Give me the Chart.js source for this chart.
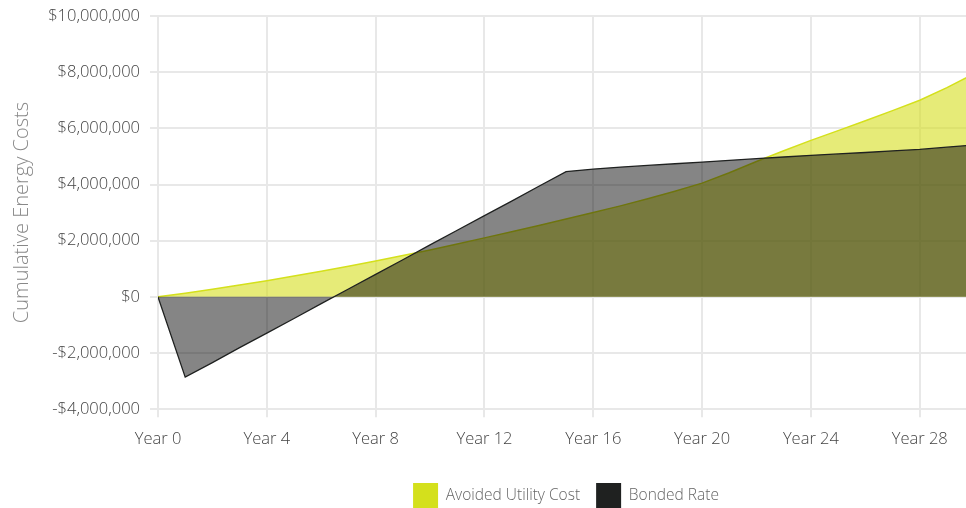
<!DOCTYPE html>
<html>
<head>
<meta charset="utf-8">
<script src="https://cdn.jsdelivr.net/npm/chart.js@4/dist/chart.umd.min.js"></script>
<style>
  html, body { margin: 0; padding: 0; background: #fff; }
  #wrap { width: 966px; height: 508px; }
</style>
</head>
<body>
<div id="wrap"><canvas id="myChart" width="966" height="508"></canvas></div>
<script>
// years on the x axis
let years = [0, 1, 2, 3, 4, 5, 6, 7, 8, 9, 10, 11, 12, 13, 14, 15,
             16, 17, 18, 19, 20, 21, 22, 23, 24, 25, 26, 27, 28, 29, 30];

// cumulative avoided utility cost ($)
let avoided = [0, 130000, 270000, 420000, 570000, 740000, 910000, 1090000, 1280000, 1470000,
               1670000, 1880000, 2100000, 2320000, 2540000, 2770000, 3000000, 3240000, 3490000, 3760000,
               4050000, 4420000, 4820000, 5200000, 5570000, 5920000, 6270000, 6630000, 7000000, 7450000, 7950000];

// cumulative bonded rate ($)
let bonded = [0, -2860000, -2340000, -1810000, -1290000, -770000, -240000, 280000, 800000, 1320000,
              1850000, 2370000, 2890000, 3410000, 3940000, 4460000, 4550000, 4620000, 4680000, 4740000,
              4800000, 4860000, 4920000, 4980000, 5040000, 5090000, 5140000, 5200000, 5250000, 5330000, 5410000];

let yTicks = [-4000000, -2000000, 0, 2000000, 4000000, 6000000, 8000000, 10000000];

let yellow = '#d4e01c';
let dark = '#1f2120';

function toPoints(vals) {
    return years.map(function (y, i) { return { x: y, y: vals[i] }; });
}

function money(v) {
    let s = '$' + Math.abs(v).toLocaleString('en-US');
    return v < 0 ? '-' + s : s;
}

// push the legend down a bit and centre it under the plot area
let legendShift = {
    id: 'legendShift',
    afterLayout: function (c) {
        let lg = c.legend;
        let dx = (c.chartArea.left + c.chartArea.right) / 2 + 4 - (lg.left + lg.right) / 2;
        lg.left += dx; lg.right += dx;
        lg.top += 6; lg.bottom += 6;
    }
};

Chart.defaults.font.family = "'Open Sans', 'DejaVu Sans', sans-serif";
Chart.defaults.font.weight = 300;
Chart.defaults.color = '#555';

let ctx = document.getElementById('myChart').getContext('2d');
let chart = new Chart(ctx, {
    type: 'line',
    plugins: [legendShift],
    data: {
        datasets: [{
            label: 'Avoided Utility Cost',
            data: toPoints(avoided),
            borderColor: yellow,
            backgroundColor: 'rgba(214,222,30,0.6)',
            borderWidth: 1.5,
            pointRadius: 0,
            tension: 0,
            fill: 'origin',
            order: 1
        }, {
            label: 'Bonded Rate',
            data: toPoints(bonded),
            borderColor: dark,
            backgroundColor: 'rgba(0,0,0,0.48)',
            borderWidth: 1.3,
            pointRadius: 0,
            tension: 0,
            fill: 'origin',
            order: 0
        }]
    },
    options: {
        responsive: false,
        animation: false,
        layout: { padding: { top: 16, right: 0, bottom: -4, left: 0 } },
        plugins: {
            tooltip: { enabled: false },
            legend: {
                position: 'bottom',
                labels: {
                    boxWidth: 25,
                    boxHeight: 25,
                    padding: 16,
                    color: '#666',
                    font: { size: 15.5, weight: 300 },
                    sort: function (a, b) { return a.datasetIndex - b.datasetIndex; },
                    generateLabels: function (c) {
                        let items = Chart.defaults.plugins.legend.labels.generateLabels(c);
                        items.forEach(function (it) {
                            let ds = c.data.datasets[it.datasetIndex];
                            it.fillStyle = ds.borderColor;
                            it.strokeStyle = ds.borderColor;
                            it.lineWidth = 0;
                        });
                        return items;
                    }
                }
            }
        },
        scales: {
            x: {
                type: 'linear',
                min: 0,
                max: 29.7,
                grid: { color: '#e8e8e8', lineWidth: 2, tickLength: 8 },
                border: { display: false },
                ticks: {
                    stepSize: 4,
                    includeBounds: false,
                    padding: 12,
                    color: '#444',
                    font: { size: 16.5 },
                    maxRotation: 0,
                    callback: function (v) { return 'Year ' + v; }
                }
            },
            y: {
                min: -4000000,
                max: 10000000,
                afterFit: function (scale) {
                    scale.width = 158;
                    scale.paddingTop = 0;
                },
                afterBuildTicks: function (scale) {
                    scale.ticks = yTicks.map(function (v) { return { value: v }; });
                },
                grid: { color: '#e8e8e8', lineWidth: 2, tickLength: 8 },
                border: { display: false },
                title: {
                    display: true,
                    text: 'Cumulative Energy Costs',
                    color: '#888',
                    font: { size: 20, weight: 300 },
                    padding: { top: 10, bottom: 4 }
                },
                ticks: {
                    padding: 10,
                    color: '#444',
                    font: { size: 16.5 },
                    callback: function (v) { return money(v); }
                }
            }
        }
    }
});
</script>
</body>
</html>
